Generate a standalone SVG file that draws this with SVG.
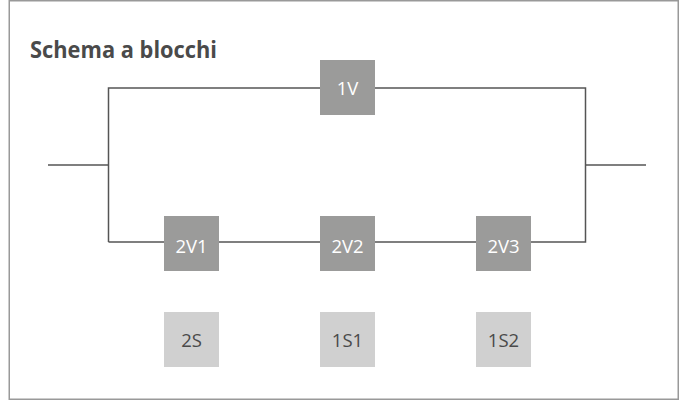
<svg xmlns="http://www.w3.org/2000/svg" width="679" height="400" viewBox="0 0 679 400">
<style>
.frame{fill:#fff;stroke:#999;stroke-width:1.5}
.wire{fill:none;stroke:#555;stroke-width:1.5}
.dark{fill:#9b9b9a}
.light{fill:#d0d0d0}
.lbl{font-family:"Open Sans","Noto Sans",sans-serif;font-size:18.5px;text-anchor:middle}
.ld{fill:#fff}
.ll{fill:#4a4a4a}
.title{font-family:"Open Sans","Noto Sans",sans-serif;font-size:23px;font-weight:bold;fill:#4a4a4a}
</style>
<rect class="frame" x="9.25" y="0.75" width="669" height="398.5"/>
<text class="title" x="30" y="58" textLength="187" lengthAdjust="spacingAndGlyphs">Schema a blocchi</text>
<g id="connectors">
<polyline class="wire" points="48,165 108.5,165"/>
<polyline class="wire" points="108.5,242 108.5,88 585.5,88 585.5,242 108.5,242"/>
<polyline class="wire" points="585.5,165 646,165"/>
</g>
<g id="n1V"><rect class="dark" x="320" y="60" width="55" height="55"/><text class="lbl ld" x="347.5" y="95">1V</text></g>
<g id="n2V1"><rect class="dark" x="164" y="216" width="55" height="55"/><text class="lbl ld" x="191.5" y="253">2V1</text></g>
<g id="n2V2"><rect class="dark" x="320" y="216" width="55" height="55"/><text class="lbl ld" x="347.5" y="253">2V2</text></g>
<g id="n2V3"><rect class="dark" x="476" y="216" width="55" height="55"/><text class="lbl ld" x="503.5" y="253">2V3</text></g>
<g id="n2S"><rect class="light" x="164" y="312" width="55" height="55"/><text class="lbl ll" x="191.5" y="347">2S</text></g>
<g id="n1S1"><rect class="light" x="320" y="312" width="55" height="55"/><text class="lbl ll" x="347.5" y="347">1S1</text></g>
<g id="n1S2"><rect class="light" x="476" y="312" width="55" height="55"/><text class="lbl ll" x="503.5" y="347">1S2</text></g>
</svg>
